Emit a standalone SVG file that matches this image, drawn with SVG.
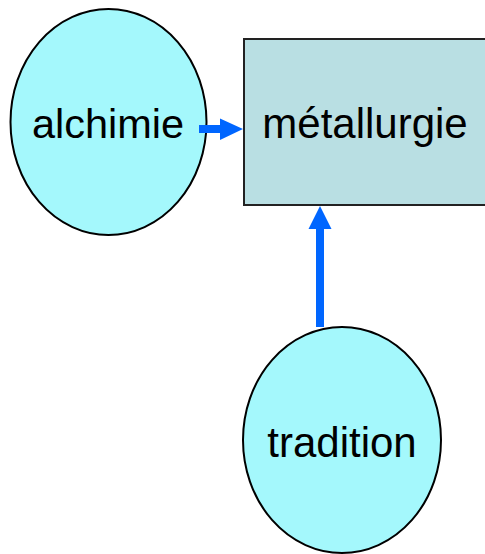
<svg xmlns="http://www.w3.org/2000/svg" width="485" height="554" viewBox="0 0 485 554">
<style>
.ell{fill:#a4f8fc;stroke:#000;stroke-width:2}
.box{fill:#b9dfe3;stroke:#222;stroke-width:2}
.lbl{font-family:"Liberation Sans",Arial,sans-serif;font-size:42px;fill:#000;text-anchor:middle}
.arr{fill:#0066ff}
</style>
<rect width="485" height="554" fill="#fff"/>
<g id="metallurgie">
<rect class="box" x="244" y="39" width="250" height="166"/>
<text class="lbl" x="365" y="138">métallurgie</text>
</g>
<g id="alchimie">
<ellipse class="ell" cx="108.5" cy="122" rx="98" ry="113"/>
<text class="lbl" x="108" y="138" style="font-size:41.5px">alchimie</text>
</g>
<g id="tradition">
<ellipse class="ell" cx="342" cy="440" rx="99" ry="113"/>
<text class="lbl" x="342" y="457">tradition</text>
</g>
<g id="connectors">
<polygon class="arr" points="199,125 220,125 220,118.5 243,129 220,140 220,133 199,133"/>
<polygon class="arr" points="316,327 316,229 308.5,229 320,206 331.5,229 324,229 324,327"/>
</g>
</svg>
